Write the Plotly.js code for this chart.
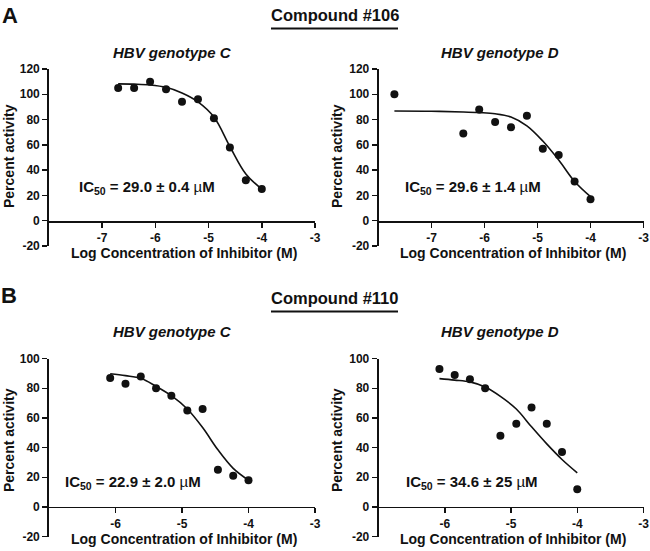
<!DOCTYPE html>
<html>
<head>
<meta charset="utf-8">
<script src="https://cdn.plot.ly/plotly-3.0.1.min.js"></script>
<style>html,body{margin:0;padding:0;background:#fff;}#chart{width:650px;height:551px;}</style>
</head>
<body>
<div id="chart"></div>
<script>
// ---- Data ----
// Compound #106, genotype C
const c106C_x = [-6.7, -6.4, -6.1, -5.8, -5.5, -5.2, -4.9, -4.6, -4.3, -4.0];
const c106C_y = [105, 105, 110, 104, 94, 96, 81, 58, 32, 25];
const c106C_fitX = [-6.7, -6.4, -6.1, -5.8, -5.5, -5.2, -4.9, -4.6, -4.3, -4.0];
const c106C_fitY = [108.2, 108, 107.4, 105.5, 101, 94, 82, 58.7, 37, 25];
// Compound #106, genotype D
const c106D_x = [-7.7, -6.4, -6.1, -5.8, -5.5, -5.2, -4.9, -4.6, -4.3, -4.0];
const c106D_y = [100, 69, 88, 78, 74, 83, 57, 52, 31, 17];
const c106D_fitX = [-7.7, -7.0, -6.4, -6.1, -5.8, -5.5, -5.2, -4.9, -4.6, -4.3, -4.0];
const c106D_fitY = [86.8, 86.6, 86, 85.5, 84.6, 82, 75, 63, 48, 31, 19];
// Compound #110, genotype C
const c110C_x = [-6.08, -5.85, -5.62, -5.39, -5.16, -4.92, -4.69, -4.46, -4.23, -4.0];
const c110C_y = [87, 83, 88, 80, 75, 65, 66, 25, 21, 18];
const c110C_fitX = [-6.08, -5.85, -5.62, -5.39, -5.16, -4.92, -4.69, -4.46, -4.23, -4.0];
const c110C_fitY = [89.8, 88.5, 86.7, 81.3, 75, 66, 53.5, 38.5, 26, 18];
// Compound #110, genotype D
const c110D_x = [-6.08, -5.85, -5.62, -5.39, -5.16, -4.92, -4.69, -4.46, -4.23, -4.0];
const c110D_y = [93, 89, 86, 80, 48, 56, 67, 56, 37, 12];
const c110D_fitX = [-6.08, -5.85, -5.62, -5.39, -5.16, -4.92, -4.69, -4.46, -4.23, -4.0];
const c110D_fitY = [86.5, 85.5, 84.3, 80.8, 74.5, 66, 54, 42.5, 32, 23];

const xTicksA = [-7, -6, -5, -4, -3];
const xTickTextA = ["-7", "-6", "-5", "-4", "-3"];
const xTicksB = [-6, -5, -4, -3];
const xTickTextB = ["-6", "-5", "-4", "-3"];
const yTicksA = [-20, 0, 20, 40, 60, 80, 100, 120];
const yTickTextA = ["-20", "0", "20", "40", "60", "80", "100", "120"];
const yTicksB = [-20, 0, 20, 40, 60, 80, 100];
const yTickTextB = ["-20", "0", "20", "40", "60", "80", "100"];

const panelTitles = ["HBV genotype C", "HBV genotype D", "HBV genotype C", "HBV genotype D"];
const icLabels = [
  "IC<sub>50</sub> = 29.0 ± 0.4 <span style='font-weight:normal'>µ</span>M",
  "IC<sub>50</sub> = 29.6 ± 1.4 <span style='font-weight:normal'>µ</span>M",
  "IC<sub>50</sub> = 22.9 ± 2.0 <span style='font-weight:normal'>µ</span>M",
  "IC<sub>50</sub> = 34.6 ± 25 <span style='font-weight:normal'>µ</span>M"
];
const compoundLabels = ["Compound #106", "Compound #110"];
const panelLetters = ["A", "B"];
const xTitle = "Log Concentration of Inhibitor (M)";
const yTitle = "Percent activity";

// ---- Layout helpers (pixel -> paper) ----
const W = 650, H = 551;
const px = x => x / W;
const py = y => 1 - y / H;
const INK = '#111';
const FAM = 'Liberation Sans, Arial, Helvetica, sans-serif';

const markerTrace = (x, y, xa, ya) => ({
  x, y, xaxis: xa, yaxis: ya, type: 'scatter', mode: 'markers',
  marker: {color: INK, size: 8}, hoverinfo: 'skip'
});
const lineTrace = (x, y, xa, ya) => ({
  x, y, xaxis: xa, yaxis: ya, type: 'scatter', mode: 'lines',
  line: {color: INK, width: 1.6, shape: 'spline', smoothing: 1}, hoverinfo: 'skip'
});

const data = [
  lineTrace(c106C_fitX, c106C_fitY, 'x', 'y'),
  markerTrace(c106C_x, c106C_y, 'x', 'y'),
  lineTrace(c106D_fitX, c106D_fitY, 'x2', 'y2'),
  markerTrace(c106D_x, c106D_y, 'x2', 'y2'),
  lineTrace(c110C_fitX, c110C_fitY, 'x3', 'y3'),
  markerTrace(c110C_x, c110C_y, 'x3', 'y3'),
  lineTrace(c110D_fitX, c110D_fitY, 'x4', 'y4'),
  markerTrace(c110D_x, c110D_y, 'x4', 'y4')
];

const tickFont = {family: FAM, size: 12, color: INK, weight: 'bold'};
function xAx(domainPx, range, ticks, labels, zeroPy) {
  return {
    domain: [px(domainPx[0]), px(domainPx[1])], range, anchor: 'free', position: py(zeroPy),
    tickmode: 'array', tickvals: ticks, ticktext: labels, ticks: 'outside', ticklen: 5, tickwidth: 1.5, tickcolor: INK,
    showline: true, linewidth: 1.8, linecolor: INK, showgrid: false, zeroline: false,
    tickfont: tickFont, fixedrange: true, ticklabelstandoff: 0
  };
}
function yAx(domainPx, range, ticks, labels, anchor) {
  return {
    domain: [py(domainPx[1]), py(domainPx[0])], range, anchor,
    tickmode: 'array', tickvals: ticks, ticktext: labels, ticks: 'outside', ticklen: 5, tickwidth: 1.5, tickcolor: INK,
    showline: true, linewidth: 1.8, linecolor: INK, showgrid: false, zeroline: false,
    tickfont: tickFont, fixedrange: true
  };
}

const layout = {
  width: W, height: H, margin: {l: 0, r: 0, t: 0, b: 0},
  paper_bgcolor: '#fff', plot_bgcolor: 'rgba(0,0,0,0)', showlegend: false,
  font: {family: FAM, color: INK},
  xaxis:  xAx([49, 315], [-8, -3], xTicksA, xTickTextA, 221),
  yaxis:  yAx([69, 246], [-20, 120], yTicksA, yTickTextA, 'x'),
  xaxis2: xAx([378.5, 643.5], [-8, -3], xTicksA, xTickTextA, 221),
  yaxis2: yAx([69, 246], [-20, 120], yTicksA, yTickTextA, 'x2'),
  xaxis3: xAx([49, 315], [-7, -3], xTicksB, xTickTextB, 506.6),
  yaxis3: yAx([358.6, 536.6], [-20, 100], yTicksB, yTickTextB, 'x3'),
  xaxis4: xAx([378.5, 643.5], [-7, -3], xTicksB, xTickTextB, 506.6),
  yaxis4: yAx([358.6, 536.6], [-20, 100], yTicksB, yTickTextB, 'x4'),
  annotations: [],
  shapes: []
};

function ann(text, x, y, size, extra) {
  return Object.assign({
    text, x: px(x), y: py(y), xref: 'paper', yref: 'paper', showarrow: false,
    xanchor: 'center', yanchor: 'middle',
    font: {family: FAM, size, color: INK, weight: 'bold'}
  }, extra || {});
}

// panel letters
layout.annotations.push(ann(panelLetters[0], 10, 15, 22));
layout.annotations.push(ann(panelLetters[1], 9, 295, 22));
// compound headers
layout.annotations.push(ann(compoundLabels[0], 335, 15, 16.5));
layout.annotations.push(ann(compoundLabels[1], 335, 298, 16.5));
layout.shapes.push({type: 'line', xref: 'paper', yref: 'paper', x0: px(271), x1: px(398), y0: py(28.5), y1: py(28.5), line: {color: INK, width: 1.8}});
layout.shapes.push({type: 'line', xref: 'paper', yref: 'paper', x0: px(271), x1: px(398), y0: py(311.5), y1: py(311.5), line: {color: INK, width: 1.8}});
// panel titles
const titlePos = [[172, 52], [500, 52], [172, 331], [500, 331]];
panelTitles.forEach((t, i) => {
  const a = ann(t, titlePos[i][0], titlePos[i][1], 15);
  a.font.style = 'italic';
  layout.annotations.push(a);
});
// IC50 labels
const icPos = [[146.5, 187], [472.5, 187], [132.5, 482], [471.5, 482]];
icLabels.forEach((t, i) => layout.annotations.push(ann(t, icPos[i][0], icPos[i][1], 15)));
// axis titles
const xtPos = [[184, 253], [512.5, 253], [184, 539], [512.5, 539]];
xtPos.forEach(p => layout.annotations.push(ann(xTitle, p[0], p[1], 14)));
const ytPos = [[9, 156], [337, 156], [9, 440], [337, 440]];
ytPos.forEach(p => layout.annotations.push(ann(yTitle, p[0], p[1], 14, {textangle: -90})));

Plotly.newPlot('chart', data, layout, {displayModeBar: false, staticPlot: true});
</script>
</body>
</html>
